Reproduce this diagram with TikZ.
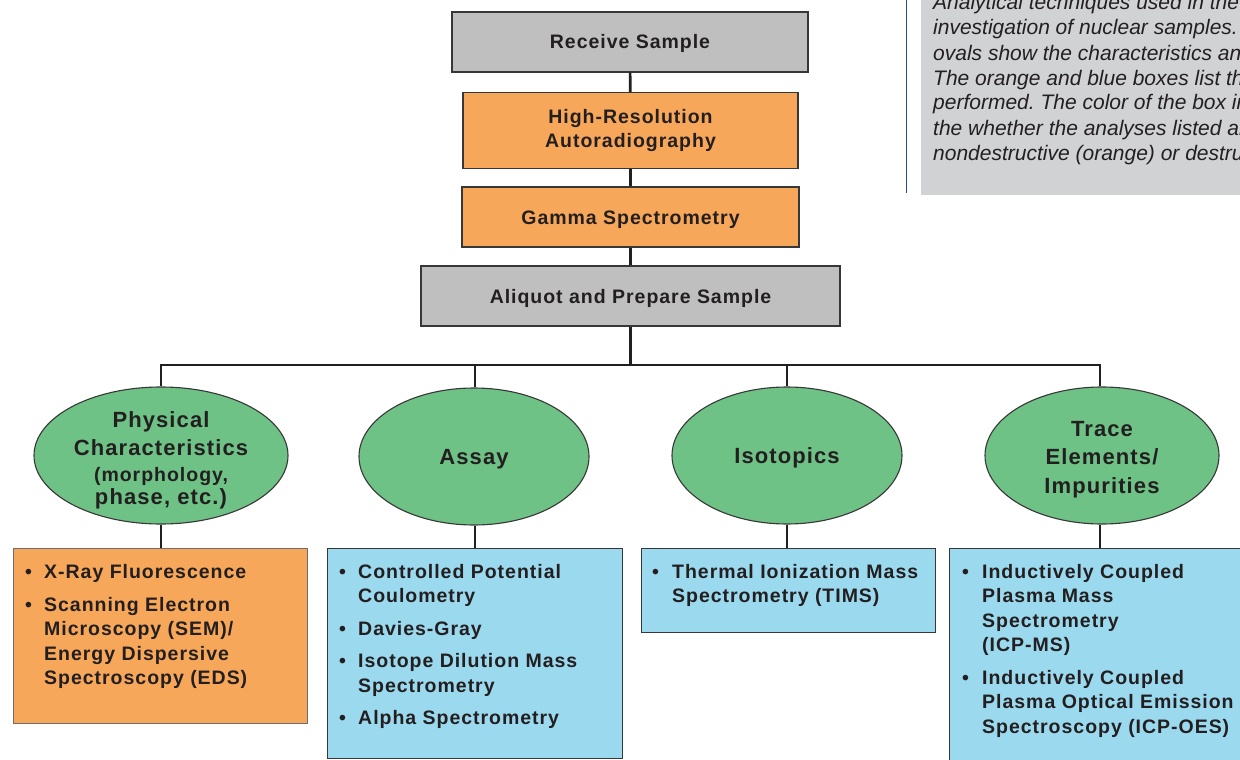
\documentclass[tikz,border=0pt]{standalone}
\usepackage{fontspec}
\setmainfont{Liberation Sans}
\newfontfamily\labfont[LetterSpace=5]{Liberation Sans}
\usetikzlibrary{shapes.geometric}
\definecolor{boxgray}{RGB}{191,191,191}
\definecolor{boxorange}{RGB}{247,167,89}
\definecolor{ovalgreen}{RGB}{111,194,134}
\definecolor{boxblue}{RGB}{155,217,238}
\definecolor{capgray}{RGB}{209,210,212}
\definecolor{capline}{RGB}{40,74,140}
\definecolor{ink}{RGB}{35,31,32}
\definecolor{edge}{RGB}{55,55,55}
\tikzset{
  lab/.style={font=\labfont\bfseries\fontsize{19.5}{24}\selectfont, text=ink, align=center},
  stepbox/.style={lab, draw=edge, line width=1.1pt, inner sep=0pt},
  oneline/.style={text height=14pt, text depth=0pt},
  graybox/.style={stepbox, fill=boxgray},
  orangebox/.style={stepbox, fill=boxorange},
  oval/.style={ellipse, draw=edge, line width=1.1pt, fill=ovalgreen, inner sep=0pt},
  ovaltext/.style={text=ink, align=center, inner sep=0pt,
     font=\labfont\bfseries\fontsize{22}{28.5}\selectfont},
  listbox/.style={draw=edge, line width=1.1pt, inner sep=0pt, anchor=north west},
  listtext/.style={anchor=base west, inner sep=0pt, text=ink, align=left,
     font=\labfont\bfseries\fontsize{19.5}{24.5}\selectfont},
  trunk/.style={line width=2.6pt, draw=ink},
  bus/.style={line width=2pt, draw=ink},
  drop/.style={line width=1.5pt, draw=ink},
  captext/.style={anchor=base west, inner sep=0pt, text=ink, font=\frenchspacing\itshape\fontsize{21}{25}\selectfont}
}
\newcommand{\bul}{\textbullet}
\begin{document}
\begin{tikzpicture}[x=1pt,y=-1pt]
\clip (0,0) rectangle (1240,760);
\fill[white] (0,0) rectangle (1240,760);

% caption panel
\fill[capgray] (921,0) rectangle (1240,195);
\draw[capline, line width=1.4pt] (906.5,0) -- (906.5,193);
\node[captext] (c1) at (933,10) {Analytical techniques used in the};
\node[captext] (c2) at (933,35) {investigation of nuclear samples.};
\node[captext] (c3) at (933,60) {ovals show the characteristics analyzed.};
\node[captext] (c4) at (933,85) {The orange and blue boxes list the};
\node[captext] (c5) at (933,110) {performed. The color of the box indicates};
\node[captext] (c6) at (933,135) {the whether the analyses listed are};
\node[captext] (c7) at (933,160) {nondestructive (orange) or destructive (blue).};

% top chain
\node[graybox, oneline, minimum width=356pt, minimum height=60pt] (recv) at (630,42) {Receive Sample};
\node[orangebox, minimum width=335pt, minimum height=76pt] (hires) at (630.5,130.5) {High-Resolution\\Autoradiography};
\node[orangebox, oneline, minimum width=337pt, minimum height=60pt] (gamma) at (630.5,217) {Gamma Spectrometry};
\node[graybox, oneline, minimum width=419pt, minimum height=60pt] (aliq) at (630.5,296) {Aliquot and Prepare Sample};

\draw[trunk] (recv) -- (hires);
\draw[trunk] (hires) -- (gamma);
\draw[trunk] (gamma) -- (aliq);

% ovals
\node[oval, minimum width=254pt, minimum height=137pt,
  label={[ovaltext, yshift=-4.8pt]center:{Physical\\Characteristics\\[-2.5pt]\fontsize{19.5}{23}\selectfont (morphology,\\[-5.5pt]phase, etc.)}}] (e1) at (161,455.5) {};
\node[oval, minimum width=230pt, minimum height=137pt,
  label={[ovaltext, yshift=-3pt]center:Assay}] (e2) at (474,456.5) {};
\node[oval, minimum width=230pt, minimum height=137pt,
  label={[ovaltext, yshift=-2pt]center:Isotopics}] (e3) at (787,455.5) {};
\node[oval, minimum width=234pt, minimum height=137pt,
  label={[ovaltext, yshift=-4pt]center:{Trace\\Elements/\\Impurities}}] (e4) at (1102,455.5) {};

\coordinate (busc) at (630.5,365);
\draw[trunk] (aliq.south) -- (busc);
\draw[bus] ([xshift=-0.75pt]e1.north |- busc) -- ([xshift=-1.25pt]e4.north |- busc);
\draw[drop] ([xshift=0pt]e1.north |- busc) -- (e1.north);
\draw[drop] ([xshift=1pt]e2.north |- busc) -- ([xshift=1pt]e2.north);
\draw[drop] (e3.north |- busc) -- (e3.north);
\draw[drop] ([xshift=-2pt]e4.north |- busc) -- ([xshift=-2pt]e4.north);

% result boxes
\node[listbox, draw=gray!85!black, fill=boxorange, minimum width=294pt, minimum height=175pt] (b1) at (13,548) {};
\node[listbox, fill=boxblue, minimum width=295pt, minimum height=210pt] (b2) at (327,548) {};
\node[listbox, fill=boxblue, minimum width=294pt, minimum height=84pt] (b3) at (641,548) {};
\node[listbox, fill=boxblue, minimum width=300pt, minimum height=230pt] (b4) at (949,548) {};

\draw[drop] (e1.south) -- (e1.south |- b1.north);
\draw[drop] ([xshift=1pt]e2.south) -- ([xshift=1pt]e2.south |- b2.north);
\draw[drop] (e3.south) -- (e3.south |- b3.north);
\draw[drop] ([xshift=-2pt]e4.south) -- ([xshift=-2pt]e4.south |- b4.north);

\node[listtext] (t1) at (25,578) {\begin{tabular}[t]{@{}p{19pt}@{}l@{}}
\bul & X-Ray Fluorescence\\[8.5pt]
\bul & Scanning Electron\\
 & Microscopy (SEM)/\\
 & Energy Dispersive\\
 & Spectroscopy (EDS)
\end{tabular}};
\node[listtext] (t2) at (339,578) {\begin{tabular}[t]{@{}p{19pt}@{}l@{}}
\bul & Controlled Potential\\
 & Coulometry\\[8pt]
\bul & Davies-Gray\\[8pt]
\bul & Isotope Dilution Mass\\
 & Spectrometry\\[8pt]
\bul & Alpha Spectrometry
\end{tabular}};
\node[listtext] (t3) at (652,578) {\begin{tabular}[t]{@{}p{20pt}@{}l@{}}
\bul & Thermal Ionization Mass\\
 & Spectrometry (TIMS)
\end{tabular}};
\node[listtext] (t4) at (962,578) {\begin{tabular}[t]{@{}p{20pt}@{}l@{}}
\bul & Inductively Coupled\\
 & Plasma Mass\\
 & Spectrometry\\
 & (ICP-MS)\\[8pt]
\bul & Inductively Coupled\\
 & Plasma Optical Emission\\
 & Spectroscopy (ICP-OES)
\end{tabular}};
\end{tikzpicture}
\end{document}
